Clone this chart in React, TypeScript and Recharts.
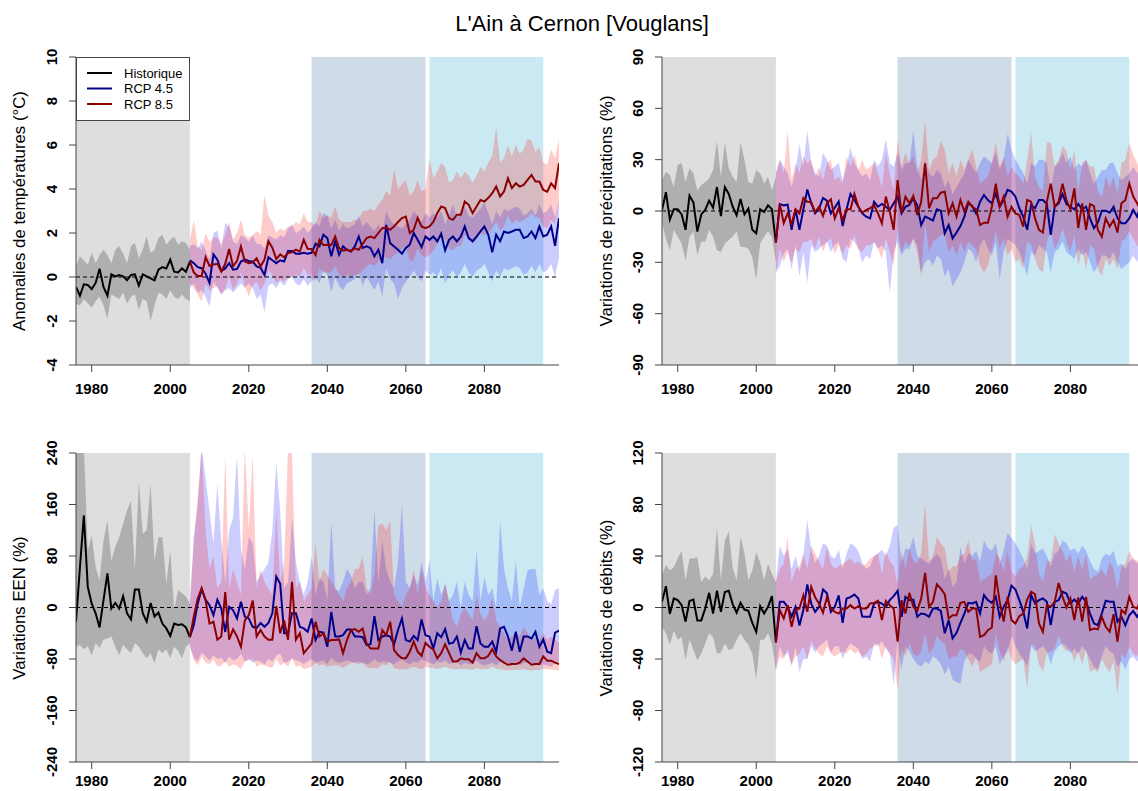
import React from 'react';
import { ComposedChart, Line, Area, XAxis, YAxis, ReferenceArea, ReferenceLine } from 'recharts';

const FONT = '"Liberation Sans", Arial, Helvetica, sans-serif';

// Years: historical run 1976-2005, scenarios 2005-2099
const HIST_START = 1976;
const RCP_START = 2005;
const LAST_YEAR = 2099;
const X_TICKS = [1980, 2000, 2020, 2040, 2060, 2080];

// Shaded reference periods
const PERIOD_HIST: [number, number] = [1976, 2005];
const PERIOD_NEAR: [number, number] = [2036, 2065];
const PERIOD_FAR: [number, number] = [2066, 2095];

const TITLE = "L'Ain à Cernon [Vouglans]";
const LEGEND_LABELS = ['Historique', 'RCP 4.5', 'RCP 8.5'];

// ---------- Température (anomalies, °C) ----------
const histTemp = [-0.45, -0.85, -0.33, -0.36, -0.55, -0.27, 0.38, -0.45, -0.85, 0.12, 0.03, 0.09, 0.03, -0.15, 0.09, 0.12, -0.39, 0.12, 0.03, -0.06, -0.15, 0.33, 0.45, 0.39, 0.79, 0.24, 0.21, 0.39, 0.24, 0.7];
const histTempLo = [-1.2, -1.3, -1.0, -1.2, -1.4, -1.1, -0.9, -1.3, -1.9, -0.8, -0.9, -1.0, -0.7, -1.2, -0.9, -0.8, -1.5, -1.0, -1.1, -2.0, -1.3, -0.7, -0.8, -1.0, -0.6, -0.9, -1.0, -0.8, -1.0, -1.1];
const histTempHi = [0.48, 0.94, 0.75, 0.56, 1.1, 0.63, 1.0, 1.24, 1.0, 0.63, 1.24, 1.4, 1.06, 0.63, 1.4, 1.54, 0.86, 1.24, 1.85, 1.09, 1.24, 1.77, 1.92, 1.47, 1.69, 1.84, 1.47, 1.62, 1.54, 1.24];

const rcp45Temp = [
  0.76, 0.63, 0.45, 0.4, 0.15, -0.27, 1.03, 0.79, 0.27, 0.39,
  0.63, 0.33, 0.36, 0.7, 0.79, 0.73, 0.7, 0.48, 0.42, 0.09,
  0.9, 0.76, 0.63, 0.76, 0.7, 1.18, 1.18, 1.06, 1.06, 1.1,
  1.06, 1.1, 1.51, 1.39, 1.92, 1.77, 0.94, 1.62, 1.01, 1.39,
  1.24, 1.16, 1.39, 1.84, 1.32, 1.39, 1.32, 0.94, 1.24, 0.63,
  2.37, 1.54, 1.39, 1.24, 1.06, 1.32, 1.47, 2.0, 1.69, 1.36,
  1.84, 1.69, 1.84, 1.62, 1.97, 1.21, 1.69, 1.84, 1.62, 1.84,
  2.3, 1.77, 1.62, 1.84, 2.07, 2.3, 1.92, 1.12, 1.92, 1.62,
  2.07, 2.0, 2.07, 2.15, 2.15, 1.77, 1.84, 2.07, 1.77, 2.3,
  1.84, 1.92, 2.3, 1.42, 2.68,
];
const rcp45TempLo = [
  -0.5, -0.3, -0.7, -0.6, -0.9, -1.35, -0.2, -0.5, -0.8, -0.6,
  -0.5, -0.7, -0.5, -0.3, -0.5, -0.3, -0.5, -1.0, -0.8, -1.6,
  -0.4, -0.3, -0.5, -0.2, -0.4, -0.1, 0.0, -0.3, -0.4, -0.1,
  -0.4, -0.2, 0.0, -0.3, 0.3, 0.1, -0.7, 0.0, -0.4, -0.6,
  -0.3, -0.2, -0.1, 0.2, -0.4, 0.0, -0.3, -0.6, -0.2, -0.9,
  0.4, -0.1, -0.3, -1.0, -0.5, -0.2, 0.0, 0.3, 0.0, -0.2,
  0.3, 0.1, 0.2, 0.0, 0.4, -0.3, 0.1, 0.3, 0.0, 0.2,
  0.6, 0.2, 0.0, 0.3, 0.4, 0.6, 0.2, -0.2, 0.3, 0.0,
  0.4, 0.3, 0.4, 0.5, 0.4, 0.1, 0.2, 0.5, 0.2, 0.6,
  0.2, 0.3, 0.6, 0.0, 0.9,
];
const rcp45TempHi = [
  1.4, 1.5, 1.3, 1.6, 1.2, 0.8, 2.0, 2.1, 1.3, 2.45,
  2.3, 1.6, 1.5, 1.9, 1.8, 1.6, 1.9, 1.5, 1.5, 1.3,
  1.9, 1.8, 1.7, 1.9, 1.8, 2.2, 2.4, 2.0, 2.1, 2.3,
  2.0, 2.2, 2.5, 2.3, 2.9, 2.8, 2.2, 2.6, 2.1, 2.4,
  2.2, 2.3, 2.4, 2.8, 2.3, 2.5, 2.3, 2.1, 2.4, 2.0,
  3.0, 2.6, 2.4, 2.3, 2.2, 2.4, 2.6, 3.0, 2.8, 2.5,
  2.9, 2.7, 2.9, 2.7, 3.0, 2.4, 2.8, 3.3, 2.7, 2.9,
  3.2, 2.8, 2.7, 2.9, 3.1, 3.4, 2.9, 2.4, 3.0, 2.7,
  3.1, 3.0, 3.1, 3.2, 3.1, 2.8, 2.9, 3.1, 2.8, 3.3,
  2.9, 3.0, 3.3, 2.7, 3.5,
];
const rcp85Temp = [
  0.7, 0.21, 0.05, 0.05, 0.9, 0.5, 0.57, 0.6, 0.25, 0.6,
  1.27, 0.48, 0.73, 1.39, 0.7, 0.63, 0.67, 0.85, 0.48, 0.79,
  1.63, 1.33, 0.82, 1.03, 0.9, 1.09, 1.12, 1.24, 1.15, 1.69,
  1.28, 1.27, 1.0, 1.69, 1.45, 1.45, 1.45, 1.84, 1.3, 1.2,
  1.24, 1.18, 1.3, 1.24, 1.5, 1.77, 1.84, 1.77, 2.0, 2.22,
  2.25, 2.15, 2.3, 2.5, 2.68, 2.75, 2.0, 2.15, 2.68, 2.3,
  2.22, 2.3, 2.5, 2.9, 3.2, 3.13, 2.68, 2.6, 2.83, 2.83,
  3.43, 3.28, 2.9, 3.2, 3.5, 3.43, 3.6, 3.81, 4.11, 3.66,
  3.88, 4.49, 4.04, 4.26, 4.11, 4.19, 4.41, 4.64, 4.34, 4.34,
  3.96, 3.88, 4.26, 4.04, 5.17,
];
const rcp85TempLo = [
  -0.3, -0.5, -0.8, -1.1, -0.3, -0.6, -0.5, -0.4, -0.8, -0.5,
  0.0, -0.6, -0.3, 0.2, -0.4, -0.9, -0.4, -0.2, -0.6, -0.3,
  0.3, 0.1, -0.3, -0.1, -0.2, 0.0, 0.0, 0.1, 0.0, 0.4,
  0.1, 0.1, -0.2, 0.4, 0.2, 0.2, 0.2, 0.5, 0.1, 0.0,
  0.1, 0.0, 0.1, 0.1, 0.3, 0.5, 0.6, 0.5, 0.7, 0.9,
  0.9, 0.8, 1.0, 1.1, 1.3, 1.4, 0.7, 0.8, 1.3, 1.0,
  0.9, 1.0, 1.2, 1.5, 1.8, 1.7, 1.3, 1.2, 1.4, 1.4,
  1.9, 1.8, 1.5, 1.7, 2.0, 1.9, 2.0, 2.2, 2.5, 2.1,
  2.3, 2.8, 2.4, 2.6, 2.5, 2.6, 2.7, 2.9, 2.7, 2.7,
  2.3, 2.2, 2.6, 2.4, 3.4,
];
const rcp85TempHi = [
  1.7, 2.6, 1.4, 1.2, 2.0, 1.6, 1.8, 1.8, 1.5, 1.9,
  2.5, 1.7, 2.0, 2.6, 1.9, 1.8, 1.9, 2.1, 1.9, 3.7,
  2.8, 2.5, 2.0, 2.2, 2.1, 2.3, 2.3, 2.5, 2.4, 2.9,
  2.5, 2.5, 2.3, 3.0, 2.7, 2.8, 2.7, 3.2, 2.6, 2.5,
  2.5, 2.5, 2.6, 2.6, 3.0, 3.0, 3.1, 3.0, 3.3, 3.5,
  3.9, 3.7, 4.9, 4.0, 4.2, 4.4, 3.7, 3.9, 4.4, 3.9,
  4.0, 5.4, 4.5, 4.8, 5.2, 5.0, 4.3, 4.4, 4.8, 4.5,
  4.8, 4.6, 4.3, 4.6, 5.0, 4.8, 5.2, 5.5, 6.8, 5.2,
  5.4, 6.0, 5.5, 6.0, 5.6, 5.8, 6.3, 6.2, 5.7, 5.9,
  5.2, 5.1, 5.8, 5.4, 6.3,
];

// ---------- Précipitations (variations, %) ----------
const histPrec = [0.6, 11, -5, 1, 1, -2, -11, 9, 5, -12, -2, 0.6, 6, 2, 14, -3, 14, 10, 2.5, -2.5, 7, -2, 1.4, -11, -13, 1, -0.6, 3.3, 1, -18.5];
const histPrecLo = [-7, -16, -23, -11, -15, -19, -29, -15, -12, -26, -18, -18, -11, -15, -23, -24, -19, -17, -15, -12, -21, -21, -22, -27, -40, -19, -15, -12, -15, -30];
const histPrecHi = [18, 23, 21, 14, 27, 28, 17, 25, 22, 12, 15, 17, 19, 24, 41, 20, 40, 25, 20, 17, 40, 30, 17, 16, 24, 22, 16, 20, 12, 20];

const rcp45Prec = [
  -18.5, 4, 3.3, 3.7, -11, 1, -11, 1, 12.6, 4.5,
  -1.4, 1.4, 7.6, 6, -1.4, 2, 5.6, -8.8, 1, 10,
  6.4, 2.5, -1.4, -3.3, -4.3, 5.4, 2.5, 4.1, 2.5, 0.6,
  4.5, 8.4, -1.4, 2.5, 3.5, 7.4, 3.5, -8.2, -3.3, -4.3,
  -5.6, 1, 0.2, -13, -8.2, -16, -12.6, -8.8, -3.3, 4.5,
  2.9, -1.4, 5.4, 9.3, 6.4, 4.5, 10.3, 2.5, 6.4, 12.3,
  11.3, 8.4, 1.6, -3.3, -11, 3.5, 1.6, 6.4, 6.4, 4.1,
  -14, 2.5, 4.5, 9.9, 4.1, 2.5, 1, 4.1, 1, 2.5,
  -4.3, -10, -6.8, 0.2, 0.2, -1, 2.5, -4.3, -7.2, -7.2,
  -4.3, 0.6, -3.3, 4, -4,
];
const rcp45PrecLo = [
  -36, -32, -25, -22, -34, -20, -38, -24, -42, -20,
  -24, -22, -20, -18, -24, -20, -18, -28, -30, -16,
  -18, -22, -30, -26, -28, -18, -22, -20, -24, -48,
  -24, -18, -26, -22, -22, -16, -20, -36, -30, -28,
  -32, -26, -28, -38, -34, -44, -40, -36, -30, -22,
  -24, -30, -20, -16, -22, -26, -18, -40, -24, -16,
  -18, -20, -24, -30, -38, -24, -26, -20, -22, -24,
  -36, -24, -22, -18, -24, -26, -28, -22, -26, -24,
  -30, -36, -32, -26, -26, -28, -24, -30, -34, -32,
  -30, -26, -30, -22, -30,
];
const rcp45PrecHi = [
  22, 30, 26, 22, 14, 24, 39, 26, 47, 28,
  22, 20, 34, 30, 24, 26, 28, 18, 26, 37,
  28, 24, 20, 22, 18, 30, 26, 30, 42, 28,
  26, 34, 24, 28, 28, 47, 26, 18, 30, 22,
  20, 24, 22, 14, 18, 10, 14, 18, 22, 30,
  26, 22, 28, 32, 30, 28, 34, 24, 30, 45,
  36, 30, 26, 22, 16, 28, 26, 30, 30, 28,
  12, 26, 28, 34, 28, 32, 24, 28, 26, 30,
  22, 16, 20, 24, 24, 28, 28, 22, 18, 20,
  22, 26, 22, 28, 18,
];
const rcp85Prec = [
  -18.5, 4, -7, -1.4, -7.6, 1, -1.4, 7.6, 5.4, 5.2,
  -0.6, 2.5, -2.9, 4.5, 6.8, -4.3, 1.75, -5.3, 1, 1,
  10, 2.5, -1, 0.6, 1.6, 3.5, -1.4, -7.2, 8.4, -0.4,
  -11, 18, -1.4, 8.4, 4.5, 8.8, -2.3, 5.4, 27.8, 1.6,
  7.4, 7.4, 10.7, 11.3, -1.4, 4.5, -3.3, 6.4, -0.4, 5.4,
  2.5, 1, -8.2, -6.8, -6.8, 2.5, 16, 2.5, 8.4, -3.3,
  2.5, -1.4, -2.3, -9.1, 6.4, 5.4, -4.3, -11, -12.6, 5.4,
  16, 2.5, 5.4, 16, 6.4, 1, 13.2, -10, 4.5, -11,
  4.1, 2.9, -11, -15, -4.3, -9.1, -5.3, -12.6, 4.5, 6.4,
  16, 8.4, 4.5, 0, 3,
];
const rcp85PrecLo = [
  -36, -22, -30, -24, -30, -22, -24, -18, -18, -16,
  -22, -15, -24, -18, -16, -25, -20, -25, -20, -22,
  -14, -22, -24, -20, -20, -18, -22, -28, -16, -24,
  -32, -10, -24, -18, -20, -16, -24, -38, -6, -24,
  -18, -16, -14, -14, -24, -20, -26, -18, -24, -18,
  -20, -22, -32, -36, -32, -22, -12, -22, -16, -26,
  -22, -30, -28, -34, -18, -20, -28, -34, -36, -18,
  -12, -22, -18, -10, -18, -24, -14, -32, -22, -34,
  -20, -22, -34, -38, -28, -32, -28, -34, -18, -16,
  -12, -16, -20, -24, -20,
];
const rcp85PrecHi = [
  22, 30, 22, 47, 18, 28, 22, 32, 28, 30,
  20, 26, 18, 28, 30, 18, 20, 16, 32, 26,
  33, 24, 30, 24, 26, 28, 22, 14, 34, 22,
  12, 42, 26, 34, 28, 32, 22, 30, 53, 24,
  30, 32, 41, 36, 22, 28, 20, 30, 24, 30,
  36, 26, 16, 18, 20, 28, 40, 26, 32, 20,
  26, 22, 20, 16, 30, 46, 20, 14, 12, 40,
  40, 26, 30, 38, 35, 24, 36, 12, 28, 30,
  26, 26, 12, 8, 20, 14, 20, 10, 28, 30,
  40, 33, 28, 24, 26,
];

// ---------- EEN (variations, %) ----------
const histEen = [-22, 62, 143, 32, 6, -9, -31, 11, 53, -1.5, 7, -1.5, 17.5, -9, -18.6, 28, 28, -9, -22, 7, -14, -8, -25, -32.5, -44, -25, -27, -26, -31, -46];
const histEenLo = [-61, -58, -65, -60, -74, -55, -63, -50, -48, -45, -61, -74, -58, -65, -71, -55, -61, -71, -79, -71, -87, -65, -71, -65, -79, -61, -67, -79, -61, -55];
const histEenHi = [250, 250, 250, 89, 112, 63, 42, 104, 135, 73, 94, 109, 130, 151, 166, 58, 197, 114, 120, 191, 73, 109, 109, 37, 89, -4, 27, 22, 17, 6];

const rcp45Een = [
  -46, -27, 6, 29, 12, 3.6, -12, 12, -1.5, -38,
  1, -4, -17, 9, -14.5, -17, -30, -32, -24, -30,
  -24, -9, 48, 37, -40, -40, -9, -9, -30, -32.5,
  -37.7, -17, -50.6, -37.7, -39, -61, -6.7, -45, -45, -43,
  -34, -34, -45, -45, -46, -58, -57, -13.4, -50.6, -45,
  -43, -45, -57, -35, -17, -50.6, -53, -44, -50.6, -18.6,
  -43, -45, -63.5, -40, -46, -33.6, -56, -55, -45, -70,
  -50.6, -63.5, -63.5, -29, -56, -61, -61, -53, -68.7, -32.5,
  -30, -45, -67, -37.7, -68.7, -45, -45, -48, -37.7, -61,
  -49.6, -68.7, -71, -39, -36,
];
const rcp45EenLo = [
  -60, -78, -84, -70, -76, -82, -74, -80, -78, -86,
  -76, -82, -80, -72, -84, -80, -86, -82, -84, -88,
  -80, -84, -74, -72, -86, -84, -80, -82, -84, -88,
  -84, -80, -86, -84, -82, -88, -78, -84, -86, -84,
  -82, -84, -86, -84, -86, -88, -86, -80, -86, -84,
  -84, -86, -88, -84, -80, -86, -88, -84, -86, -80,
  -84, -86, -88, -84, -86, -82, -88, -86, -84, -90,
  -86, -88, -88, -82, -88, -90, -88, -86, -90, -84,
  -84, -86, -90, -84, -90, -86, -86, -88, -86, -90,
  -88, -90, -92, -86, -84,
];
const rcp45EenHi = [
  6, 110, 160, 250, 200, 150, 100, 192, 104, 40,
  120, 140, 236, 90, 60, 110, 100, 40, 50, 60,
  70, 120, 226, 150, 30, 40, 140, 70, 40, 20,
  40, 80, 20, 45, 40, 10, 133, 30, 25, 40,
  60, 50, 30, 40, 40, 20, 30, 153, 40, 104,
  60, 40, 30, 70, 161, 40, 30, 50, 35, 71,
  40, 73, 10, 45, 20, 35, 10, 20, 40, 0,
  40, 20, 10, 89, 10, 47, 20, 30, 0, 135,
  60, 30, 10, 73, 0, 30, 58, 60, 60, 20,
  30, 10, 5, 27, 30,
];
const rcp85Een = [
  -46, -14, 14, 30, 11, -25, -22, -50, -45, 24,
  -50, -34, -45, -61, -20, -12, 11, -45, -35, -45,
  -50, -50, 2, -40, -20, -50, 40, -50, -40, -71,
  -63.5, -56, -22, -45, -40, -53, -50.6, -50.6, -49.6, -71,
  -50.6, -35, -33.6, -37.7, -32.5, -56, -63.5, -63.5, -63.5, -35,
  -43, -22, -66, -74, -79, -79, -68.7, -53, -68.7, -75,
  -55, -61, -65, -79, -71, -57, -71, -84, -84, -79,
  -80.5, -80.5, -85.7, -71, -79, -79, -75, -65, -76, -81.6,
  -85.7, -89, -87.8, -87.8, -85.7, -79, -84, -89, -87.8, -87.8,
  -76, -82.6, -82.6, -85.7, -87.8,
];
const rcp85EenLo = [
  -60, -82, -90, -76, -86, -88, -80, -92, -90, -84,
  -92, -88, -90, -96, -84, -82, -80, -92, -88, -90,
  -92, -94, -80, -90, -86, -92, -78, -92, -90, -96,
  -94, -92, -86, -90, -88, -92, -90, -90, -90, -94,
  -90, -86, -86, -88, -86, -92, -94, -94, -94, -88,
  -90, -84, -94, -96, -96, -96, -94, -92, -94, -96,
  -92, -94, -94, -96, -94, -92, -94, -96, -96, -96,
  -96, -96, -97, -94, -96, -96, -95, -92, -95, -96,
  -97, -98, -97, -97, -97, -96, -97, -98, -97, -97,
  -95, -96, -96, -97, -98,
];
const rcp85EenHi = [
  6, 100, 170, 250, 120, 60, 80, 30, 40, 236,
  30, 60, 40, 20, 250, 120, 236, 30, 60, 40,
  30, 20, 150, 40, 70, 250, 240, 30, 40, 10,
  20, 30, 100, 40, 60, 50, 40, 30, 20, 10,
  30, 40, 60, 60, 80, 30, 20, 50, 127, 130,
  120, 135, 20, 10, 0, 20, 30, 60, 20, 60,
  30, 20, 10, 0, 10, 40, 10, -20, -30, -10,
  0, -10, -20, 20, -10, -20, -10, 16, -20, -30,
  -40, -50, -45, -40, -45, -30, -40, -50, -45, -50,
  -40, -50, -45, -50, -55,
];

// ---------- Débits (variations, %) ----------
const histFlow = [4.4, 16.5, -5, 7, 5.7, 1.8, -11, 5, 6.2, -10, -10, -0.8, 11.4, -4.7, 13, -3.4, 12, 13, 2.6, -4, 3.6, -1.6, -2.6, -12, -19, 1, -4.7, 0.5, 8.8, -27];
const histFlowLo = [-15, -20, -29, -18, -25, -23, -41, -25, -33, -41, -36, -28, -20, -23, -36, -35, -28, -33, -32, -25, -20, -25, -29, -36, -56, -25, -25, -20, -28, -49];
const histFlowHi = [25, 33, 29, 31, 38, 44, 21, 38, 38, 39, 20, 24, 21, 26, 62, 21, 52, 59, 31, 21, 55, 42, 21, 29, 43, 35, 21, 34, 26, 20];

const rcp45Flow = [
  -27, 4.4, 4.4, 0.5, -7, 0.5, -14, -2, 18, 3,
  -3.4, 0.5, 14, 11, -3.4, 0.5, 9.5, -12, 7, 8,
  10, 7, -7, -7.2, -7.2, 3.1, 4.4, 3.1, 0.5, 5.7,
  8.8, 12.9, -7.2, 8.3, 5.7, 6.2, -7.2, -4.7, -5.2, -7.2,
  -0.8, -0.8, -2.6, -20, -9.8, -24, -19.7, -11.9, -4.7, 3.6,
  3.1, 4.4, -4.7, 9.6, 5.7, 3.6, 8.3, -7.2, 0.5, 5.7,
  17, 14, 5.7, -3.4, -16.3, 9.6, 3.1, 5.7, 7, 4.4,
  -13.7, 4.4, 5.7, 12.2, 10.9, 3.1, 6.2, 3.1, 8.3, 4.4,
  -4.7, -12.4, -13.7, -4.7, 5.2, 4.4, 4.4, -11, -7.2, -13.7,
  -6, -2.6, -7.2, -2, -8,
];
const rcp45FlowLo = [
  -49, -30, -38, -35, -45, -30, -50, -40, -40, -30,
  -35, -30, -28, -25, -35, -30, -30, -40, -32, -28,
  -30, -32, -40, -38, -42, -28, -30, -26, -32, -36,
  -60, -24, -48, -30, -34, -40, -44, -46, -42, -44,
  -38, -40, -44, -52, -46, -56, -58, -59, -42, -36,
  -36, -40, -42, -30, -34, -36, -30, -44, -38, -34,
  -22, -30, -36, -40, -46, -30, -34, -32, -30, -34,
  -44, -34, -30, -28, -30, -36, -32, -36, -30, -34,
  -40, -46, -48, -38, -30, -34, -36, -46, -42, -48,
  -40, -38, -42, -36, -44,
];
const rcp45FlowHi = [
  20, 48, 40, 45, 30, 40, 28, 40, 68, 45,
  35, 40, 50, 48, 40, 38, 45, 30, 42, 50,
  48, 44, 35, 30, 32, 40, 42, 45, 40, 48,
  62, 64, 35, 46, 45, 55, 40, 38, 36, 34,
  38, 42, 38, 22, 30, 16, 20, 47, 34, 42,
  40, 44, 36, 52, 46, 44, 50, 34, 44, 58,
  54, 50, 44, 38, 30, 50, 42, 44, 46, 40,
  32, 42, 44, 52, 50, 44, 46, 42, 48, 44,
  36, 30, 28, 38, 42, 40, 44, 32, 34, 30,
  36, 38, 34, 40, 30,
];
const rcp85Flow = [
  -27, -2, -8.5, 1.8, -15, -2, -0.8, 9.5, -3.4, 16,
  8, 3, -4, 8, -0.8, -3.4, -4.7, -0.8, -0.8, 1.8,
  -0.8, 1, -0.8, -0.8, 3.1, 3.6, 5.2, -9.8, 5.2, 1.8,
  -0.8, -26.6, 5.7, -4.7, 11.4, 0.5, -2.6, 7, 26.9, 0.5,
  4.4, 18, 14.7, 10.3, -8.5, -6, -6, 3.6, 4.4, -3.4,
  -0.8, -0.8, -22.8, -21.5, -17.6, -15.5, 25, 4.4, -11, 8.3,
  -9.8, -12.4, -6.7, -4.7, 6.2, 12.2, 10.3, -12.4, -18.9, 1.8,
  0.5, 4.4, 19.1, 8.3, 0, 7, -9.8, 7.8, -11, 8.3,
  -17.6, -16.3, -17, -7.2, -15, -18.9, -5.2, -26.6, -2, -4.7,
  8.3, 0.5, -0.8, 7, -2,
];
const rcp85FlowLo = [
  -49, -38, -40, -32, -45, -38, -36, -30, -40, -26,
  -32, -36, -38, -30, -36, -38, -36, -34, -36, -32,
  -36, -34, -38, -36, -32, -30, -28, -40, -30, -36,
  -40, -64, -32, -38, -28, -36, -38, -34, -20, -36,
  -32, -22, -26, -28, -40, -38, -38, -32, -34, -40,
  -46, -38, -50, -48, -46, -44, -20, -34, -42, -30,
  -40, -44, -42, -40, -63, -28, -30, -44, -50, -36,
  -34, -32, -22, -30, -34, -32, -42, -34, -44, -32,
  -50, -48, -50, -40, -46, -50, -42, -68, -36, -40,
  -30, -36, -38, -30, -36,
];
const rcp85FlowHi = [
  20, 30, 34, 55, 20, 30, 32, 42, 30, 48,
  42, 36, 30, 47, 34, 30, 32, 34, 36, 38,
  34, 36, 32, 34, 38, 40, 42, 26, 44, 36,
  32, 18, 44, 30, 46, 36, 34, 42, 81, 36,
  40, 55, 50, 46, 28, 32, 32, 40, 42, 52,
  36, 38, 20, 22, 24, 26, 42, 38, 28, 44,
  28, 24, 30, 32, 40, 64, 50, 26, 20, 36,
  36, 57, 50, 44, 36, 42, 28, 40, 30, 42,
  22, 24, 26, 30, 24, 36, 30, 14, 32, 34,
  44, 38, 36, 42, 36,
];

// ---------- Colours ----------
const C_HIST_SHADE = '#DEDEDE';
const C_NEAR_SHADE = '#CFDBE6';
const C_FAR_SHADE = '#CBE9F3';
const C_HIST_BAND = '#AFAFAF';
const C_HIST_LINE = '#000000';
const C_RCP45 = '#00008B';
const C_RCP85 = '#8B0000';
const C_AXIS = '#444444';

type Series = { line: number[]; lo: number[]; hi: number[] };

function buildRows(hist: Series, r45: Series, r85: Series) {
  const rows: any[] = [];
  for (let year = HIST_START; year <= LAST_YEAR; year++) {
    const row: any = { year };
    const h = year - HIST_START;
    if (h >= 0 && h < hist.line.length) {
      row.hist = hist.line[h];
      row.histBand = [hist.lo[h], hist.hi[h]];
    }
    const r = year - RCP_START;
    if (r >= 0 && r < r45.line.length) {
      row.r45 = r45.line[r];
      row.r45Band = [r45.lo[r], r45.hi[r]];
    }
    if (r >= 0 && r < r85.line.length) {
      row.r85 = r85.line[r];
      row.r85Band = [r85.lo[r], r85.hi[r]];
    }
    rows.push(row);
  }
  return rows;
}

const YTick = (props: any) => {
  const { x, y, payload } = props;
  const tx = x - 10;
  return (
    <text x={tx} y={y} transform={`rotate(-90 ${tx} ${y})`} textAnchor="middle"
      fontFamily={FONT} fontSize={15} fontWeight="bold" fill="#000">
      {payload.value}
    </text>
  );
};

const makeXTick = (offset: number) => (props: any) => {
  const { x, y, payload } = props;
  return (
    <text x={x} y={y + offset} textAnchor="middle" fontFamily={FONT} fontSize={15} fontWeight="bold" fill="#000">
      {payload.value}
    </text>
  );
};

type PanelProps = {
  left: number;
  top: number;
  plotHeight: number;
  labelOffset: number;
  yDomain: [number, number];
  yTicks: number[];
  yLabel: string;
  hist: Series;
  r45: Series;
  r85: Series;
};

const CHART_W = 570;
const MARGIN_TOP = 57;
const MARGIN_RIGHT = 11;
const MARGIN_BOTTOM = 15;
const X_AXIS_H = 40;
const Y_AXIS_W = 76;

function Panel(p: PanelProps) {
  const data = buildRows(p.hist, p.r45, p.r85);
  const [yMin, yMax] = p.yDomain;
  const height = MARGIN_TOP + p.plotHeight + X_AXIS_H + MARGIN_BOTTOM;
  const XTick = makeXTick(p.labelOffset);
  return (
    <div style={{ position: 'absolute', left: p.left, top: p.top, width: CHART_W, height }}>
      <ComposedChart width={CHART_W} height={height} data={data}
        margin={{ top: MARGIN_TOP, right: MARGIN_RIGHT, bottom: MARGIN_BOTTOM, left: 0 }}>
        <XAxis dataKey="year" type="number" domain={[HIST_START, LAST_YEAR]} ticks={X_TICKS} interval={0}
          allowDataOverflow height={X_AXIS_H} tickSize={7} tickMargin={2}
          axisLine={{ stroke: C_AXIS }} tickLine={{ stroke: C_AXIS }} tick={<XTick />} />
        <XAxis xAxisId="top" orientation="top" dataKey="year" type="number" domain={[HIST_START, LAST_YEAR]}
          height={0} tick={false} tickLine={false} axisLine={{ stroke: C_AXIS }} />
        <YAxis type="number" domain={p.yDomain} ticks={p.yTicks} interval={0} allowDataOverflow
          width={Y_AXIS_W} tickSize={7} tickMargin={2}
          axisLine={{ stroke: C_AXIS }} tickLine={{ stroke: C_AXIS }} tick={<YTick />} />
        <YAxis yAxisId="right" orientation="right" type="number" domain={p.yDomain} width={0}
          tick={false} tickLine={false} axisLine={{ stroke: C_AXIS }} />

        <ReferenceArea x1={PERIOD_HIST[0]} x2={PERIOD_HIST[1]} y1={yMin} y2={yMax}
          fill={C_HIST_SHADE} fillOpacity={1} stroke="none" />
        <ReferenceArea x1={PERIOD_NEAR[0]} x2={PERIOD_NEAR[1]} y1={yMin} y2={yMax}
          fill={C_NEAR_SHADE} fillOpacity={1} stroke="none" />
        <ReferenceArea x1={PERIOD_FAR[0]} x2={PERIOD_FAR[1]} y1={yMin} y2={yMax}
          fill={C_FAR_SHADE} fillOpacity={1} stroke="none" />

        <Area dataKey="histBand" type="linear" stroke="none" fill={C_HIST_BAND} fillOpacity={1}
          isAnimationActive={false} activeDot={false} />
        <Area dataKey="r45Band" type="linear" stroke="none" fill="#0000FF" fillOpacity={0.2}
          isAnimationActive={false} activeDot={false} />
        <Area dataKey="r85Band" type="linear" stroke="none" fill="#FF0000" fillOpacity={0.2}
          isAnimationActive={false} activeDot={false} />

        <ReferenceLine y={0} stroke="#000" strokeWidth={1} strokeDasharray="4 3" />

        <Line dataKey="hist" type="linear" stroke={C_HIST_LINE} strokeWidth={2} dot={false}
          activeDot={false} isAnimationActive={false} />
        <Line dataKey="r45" type="linear" stroke={C_RCP45} strokeWidth={2} dot={false}
          activeDot={false} isAnimationActive={false} />
        <Line dataKey="r85" type="linear" stroke={C_RCP85} strokeWidth={2} dot={false}
          activeDot={false} isAnimationActive={false} />
      </ComposedChart>
      <div style={{
        position: 'absolute', left: p.left < 100 ? 20 : 21, top: MARGIN_TOP + p.plotHeight / 2,
        transform: 'translate(-50%, -50%) rotate(-90deg)', whiteSpace: 'nowrap',
        fontFamily: FONT, fontSize: 16.8, lineHeight: 1, color: '#000',
      }}>{p.yLabel}</div>
    </div>
  );
}

function Legend() {
  const rows = [
    { label: LEGEND_LABELS[0], color: C_HIST_LINE },
    { label: LEGEND_LABELS[1], color: C_RCP45 },
    { label: LEGEND_LABELS[2], color: C_RCP85 },
  ];
  return (
    <svg style={{ position: 'absolute', left: 76, top: 57 }} width={114} height={64}>
      <rect x={0.5} y={0.5} width={113} height={63} fill="#fff" stroke={C_AXIS} />
      {rows.map((r, i) => (
        <g key={r.label}>
          <line x1={11} x2={36} y1={16 + i * 15.5} y2={16 + i * 15.5} stroke={r.color} strokeWidth={2} />
          <text x={48} y={16 + i * 15.5} dominantBaseline="central" fontFamily={FONT} fontSize={13} fill="#000">
            {r.label}
          </text>
        </g>
      ))}
    </svg>
  );
}

export default function App() {
  return (
    <div style={{ position: 'absolute', left: 0, top: 0, width: 1138, height: 791, overflow: 'hidden', background: '#fff' }}>
      <div style={{
        position: 'absolute', left: 582, top: 24, transform: 'translate(-50%, -50%)',
        whiteSpace: 'nowrap', fontFamily: FONT, fontSize: 22, lineHeight: 1, color: '#000',
      }}>{TITLE}</div>

      <Panel left={0} top={0} plotHeight={308} labelOffset={20} yDomain={[-4, 10]} yTicks={[-4, -2, 0, 2, 4, 6, 8, 10]}
        yLabel="Anomalies de températures (°C)"
        hist={{ line: histTemp, lo: histTempLo, hi: histTempHi }}
        r45={{ line: rcp45Temp, lo: rcp45TempLo, hi: rcp45TempHi }}
        r85={{ line: rcp85Temp, lo: rcp85TempLo, hi: rcp85TempHi }} />

      <Panel left={586} top={0} plotHeight={308} labelOffset={20} yDomain={[-90, 90]} yTicks={[-90, -60, -30, 0, 30, 60, 90]}
        yLabel="Variations de précipitations (%)"
        hist={{ line: histPrec, lo: histPrecLo, hi: histPrecHi }}
        r45={{ line: rcp45Prec, lo: rcp45PrecLo, hi: rcp45PrecHi }}
        r85={{ line: rcp85Prec, lo: rcp85PrecLo, hi: rcp85PrecHi }} />

      <Panel left={0} top={396} plotHeight={309} labelOffset={15} yDomain={[-240, 240]} yTicks={[-240, -160, -80, 0, 80, 160, 240]}
        yLabel="Variations EEN (%)"
        hist={{ line: histEen, lo: histEenLo, hi: histEenHi }}
        r45={{ line: rcp45Een, lo: rcp45EenLo, hi: rcp45EenHi }}
        r85={{ line: rcp85Een, lo: rcp85EenLo, hi: rcp85EenHi }} />

      <Panel left={586} top={396} plotHeight={309} labelOffset={15} yDomain={[-120, 120]} yTicks={[-120, -80, -40, 0, 40, 80, 120]}
        yLabel="Variations de débits (%)"
        hist={{ line: histFlow, lo: histFlowLo, hi: histFlowHi }}
        r45={{ line: rcp45Flow, lo: rcp45FlowLo, hi: rcp45FlowHi }}
        r85={{ line: rcp85Flow, lo: rcp85FlowLo, hi: rcp85FlowHi }} />

      <Legend />
    </div>
  );
}
